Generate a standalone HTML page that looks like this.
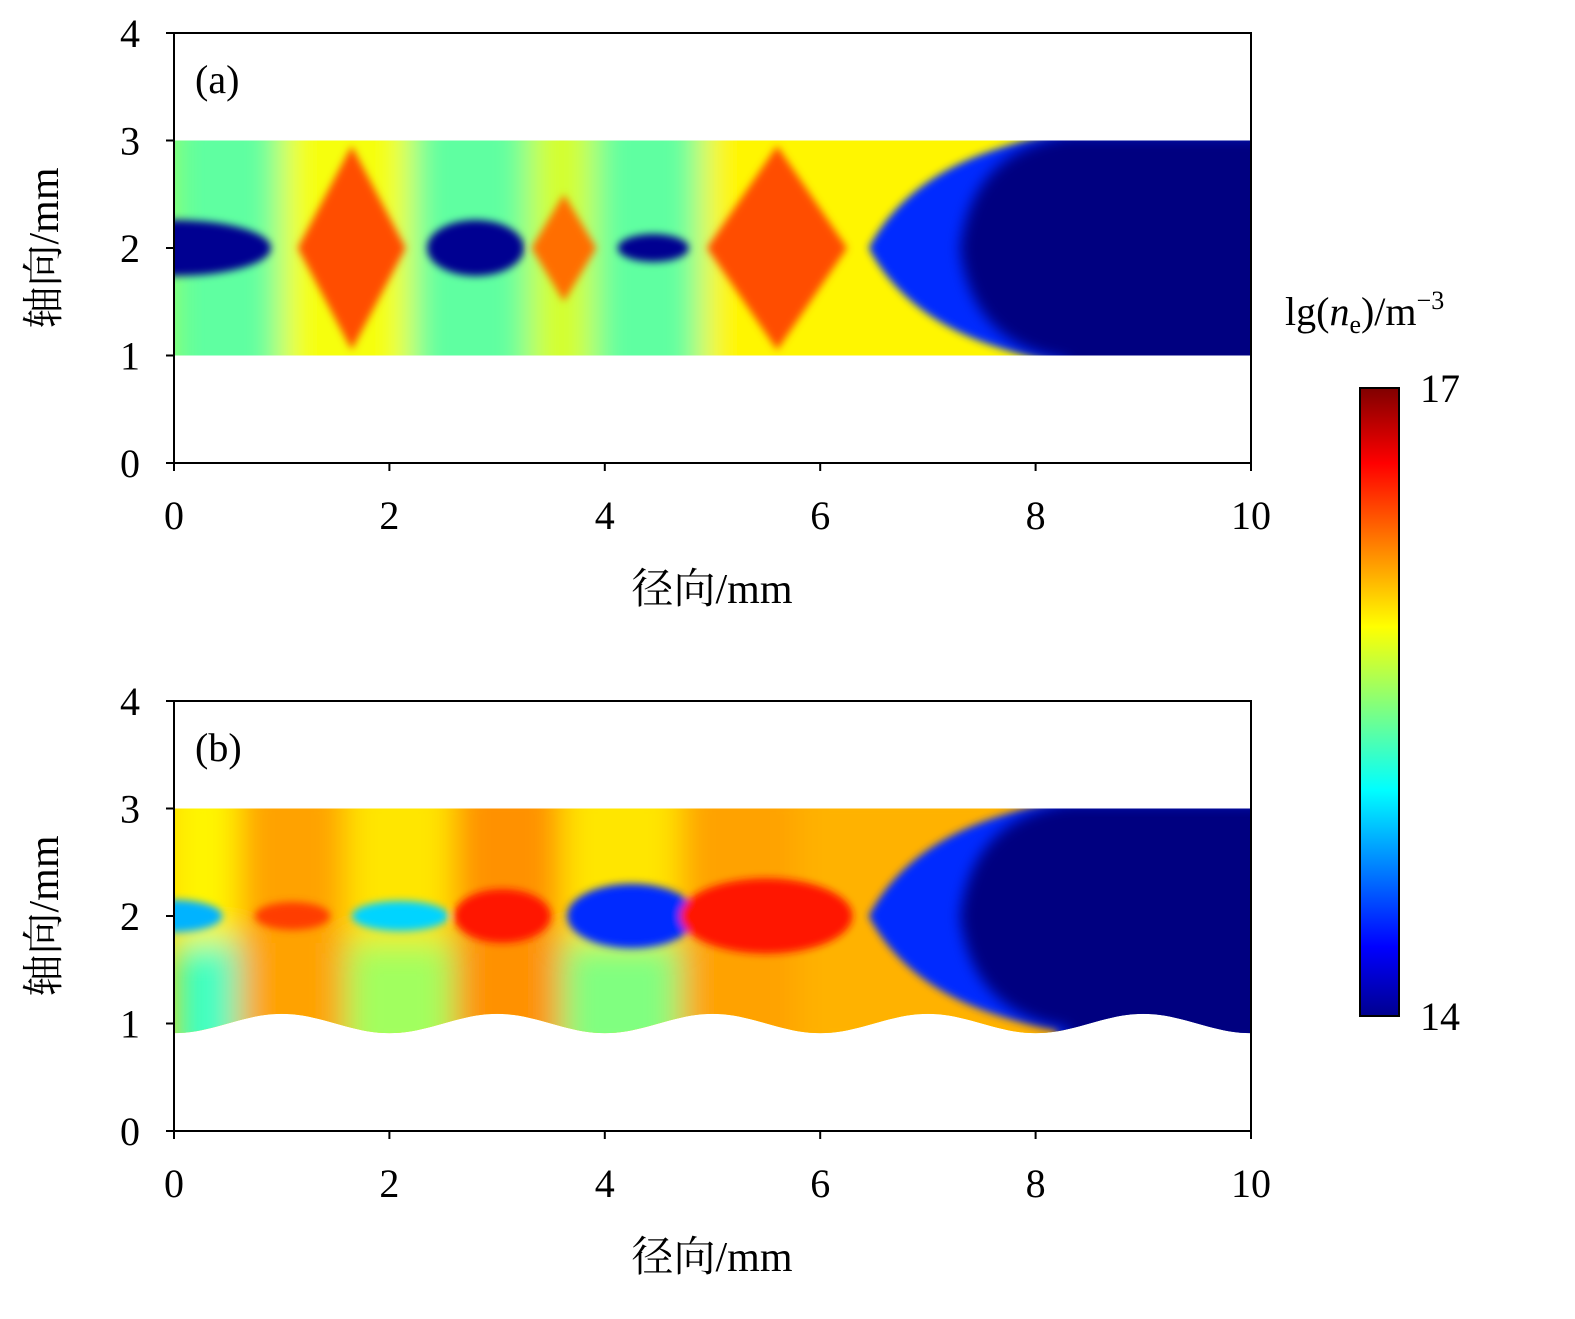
<!DOCTYPE html>
<html><head><meta charset="utf-8">
<style>
html,body{margin:0;padding:0;background:#fff;overflow:hidden;width:1575px;height:1319px;}
svg{display:block;}
text{font-family:"Liberation Serif","Noto Serif CJK SC",serif;fill:#000;}
</style></head>
<body>
<svg id="chart" width="1575" height="1319" viewBox="0 0 1575 1319" xmlns="http://www.w3.org/2000/svg">
<defs>
<filter id="blur" x="-20%" y="-20%" width="140%" height="140%"><feGaussianBlur stdDeviation="7"/></filter>
<filter id="blurB" x="-20%" y="-20%" width="140%" height="140%"><feGaussianBlur stdDeviation="16"/></filter>
<filter id="blur2" x="-20%" y="-20%" width="140%" height="140%"><feGaussianBlur stdDeviation="4"/></filter>
<linearGradient id="jetGrad" x1="0" y1="1" x2="0" y2="0">
<stop offset="0" stop-color="#00008f"/><stop offset="0.11" stop-color="#0000ff"/>
<stop offset="0.36" stop-color="#00ffff"/><stop offset="0.62" stop-color="#ffff00"/>
<stop offset="0.88" stop-color="#ff0000"/><stop offset="1" stop-color="#800000"/>
</linearGradient>
</defs>
</svg>
<script>
const xTicks=[0,2,4,6,8,10];
const yTicks=[0,1,2,3,4];
// panel a: background vertical bands
const aBandX0=[0,1.0,2.2,3.3,3.9,4.9];
const aBandX1=[1.0,2.2,3.35,3.9,4.9,8.4];
const aBandVal=[15.4,15.85,15.4,15.75,15.4,15.9];
// panel a diamonds
const aDiaX=[1.65,3.62,5.6];
const aDiaHW=[0.5,0.3,0.65];
const aDiaY0=[1.05,1.5,1.05];
const aDiaY1=[2.95,2.5,2.95];
const aDiaVal=[16.4,16.3,16.4];
// panel a ellipses
const aEllX=[0.0,2.8,4.45];
const aEllHW=[0.9,0.45,0.33];
const aEllHH=[0.26,0.26,0.13];
const aEllVal=[14.05,14.05,14.05];
// panel b background bands
const bBandX0=[0,0.6,1.6,2.6,3.6,4.7,5.8];
const bBandX1=[0.6,1.6,2.6,3.6,4.7,5.8,8.4];
const bBandVal=[15.9,16.15,15.95,16.2,15.95,16.15,16.1];
// panel b lower patches
const bLowX0=[0,1.6,3.6];
const bLowX1=[0.6,2.6,4.7];
const bLowVal=[15.3,15.6,15.5];
// panel b ellipses
const bEllX=[0.0,1.1,2.1,3.05,4.25,5.5];
const bEllHW=[0.45,0.35,0.45,0.45,0.6,0.8];
const bEllHH=[0.15,0.13,0.14,0.25,0.3,0.35];
const bEllVal=[14.9,16.45,15.0,16.55,14.5,16.55];
const cbMin=14, cbMax=17;

const NS="http://www.w3.org/2000/svg";
const svg=document.getElementById('chart');
function jet(v){
  let t=(v-cbMin)/(cbMax-cbMin); t=Math.max(0,Math.min(1,t));
  const r=Math.max(0,Math.min(1,Math.min(4*t-1.5,-4*t+4.5)));
  const g=Math.max(0,Math.min(1,Math.min(4*t-0.5,-4*t+3.5)));
  const b=Math.max(0,Math.min(1,Math.min(4*t+0.5,-4*t+2.5)));
  return `rgb(${Math.round(r*255)},${Math.round(g*255)},${Math.round(b*255)})`;
}
function mk(tag,attrs,parent){const e=document.createElementNS(NS,tag);for(const k in attrs)e.setAttribute(k,attrs[k]);(parent||svg).appendChild(e);return e;}
const X0=174,X1=1251;
function sx(x){return X0+(X1-X0)*x/10;}
function panel(top,bottom,label,isB,idx){
  const sy=y=>bottom-(bottom-top)*y/4;
  const g=mk('g',{});
  
  
  const cid='clip'+idx;
  const cp=mk('clipPath',{id:cid},g);
  let d=`M${sx(0)},${sy(3)} L${sx(10)},${sy(3)} `;
  if(isB){
    for(let i=200;i>=0;i--){const x=10*i/200;const y=1+0.09*Math.cos(Math.PI*(x-1));d+=`L${sx(x)},${sy(y)} `;}
  }else{d+=`L${sx(10)},${sy(1)} L${sx(0)},${sy(1)} `;}
  d+='Z';
  mk('path',{d:d},cp);
  const hm=mk('g',{'clip-path':`url(#${cid})`},g);
  
  
  mk('rect',{x:sx(0),y:sy(3.1),width:sx(10)-sx(0),height:sy(0.8)-sy(3.1),fill:jet(isB?16.0:15.6)},hm);
  const bl=mk('g',{filter:'url(#blurB)'},hm);
  const bx0=isB?bBandX0:aBandX0,bx1=isB?bBandX1:aBandX1,bv=isB?bBandVal:aBandVal;
  for(let i=0;i<bx0.length;i++){
    const r=mk('rect',{x:sx(bx0[i]),y:sy(3.3),width:sx(bx1[i])-sx(bx0[i]),height:sy(0.6)-sy(3.3),fill:jet(bv[i])},bl);
    
    
  }
  if(isB){
    for(let i=0;i<bLowX0.length;i++){
      const r=mk('rect',{x:sx(bLowX0[i]),y:sy(1.75),width:sx(bLowX1[i])-sx(bLowX0[i]),height:sy(0.6)-sy(1.75),fill:jet(bLowVal[i])},bl);
      
      
    }
  }
  const sh=mk('g',{filter:'url(#blur2)'},hm);
  if(!isB){
    for(let i=0;i<aDiaX.length;i++){
      const c=aDiaX[i],w=aDiaHW[i];
      const p=mk('polygon',{points:`${sx(c)},${sy(aDiaY1[i])} ${sx(c+w)},${sy(2)} ${sx(c)},${sy(aDiaY0[i])} ${sx(c-w)},${sy(2)}`,fill:jet(aDiaVal[i])},sh);
      
      
    }
  }
  const ex=isB?bEllX:aEllX,ew=isB?bEllHW:aEllHW,eh=isB?bEllHH:aEllHH,ev=isB?bEllVal:aEllVal;
  for(let i=0;i<ex.length;i++){
    const e=mk('ellipse',{cx:sx(ex[i]),cy:sy(2),rx:sx(ew[i])-sx(0),ry:sy(2)-sy(2+eh[i]),fill:jet(ev[i])},sh);
    
    
  }
  const fr=mk('path',{d:`M${sx(6.45)},${sy(2)} Q${sx(6.9)},${sy(2.85)} ${sx(8.2)},${sy(3.05)} L${sx(10.2)},${sy(3.05)} L${sx(10.2)},${sy(0.8)} L${sx(8.2)},${sy(0.8)} L${sx(8.2)},${sy(0.95)} Q${sx(6.9)},${sy(1.15)} ${sx(6.45)},${sy(2)} Z`,fill:jet(14.5)},sh);
  
  
  mk('path',{d:`M${sx(7.3)},${sy(2)} Q${sx(7.4)},${sy(2.9)} ${sx(8.3)},${sy(3.05)} L${sx(10.2)},${sy(3.05)} L${sx(10.2)},${sy(0.8)} L${sx(8.3)},${sy(0.8)} L${sx(8.3)},${sy(0.95)} Q${sx(7.4)},${sy(1.1)} ${sx(7.3)},${sy(2)} Z`,fill:jet(14.0),filter:'url(#blur)'},hm);
  const fm=mk('rect',{x:X0,y:top,width:X1-X0,height:bottom-top,fill:'none',stroke:'#000','stroke-width':2},g);
  
  
  xTicks.forEach(t=>{
    mk('line',{x1:sx(t),x2:sx(t),y1:bottom,y2:bottom+8,stroke:'#000','stroke-width':2},g);
    const tx=mk('text',{x:sx(t),y:bottom+66,'text-anchor':'middle','font-size':40},g);tx.textContent=t;
    
    
  });
  yTicks.forEach(t=>{
    mk('line',{x1:X0-8,x2:X0,y1:sy(t),y2:sy(t),stroke:'#000','stroke-width':2},g);
    const tx=mk('text',{x:140,y:sy(t)+14,'text-anchor':'end','font-size':40},g);tx.textContent=t;
    
    
  });
  const lb=mk('text',{x:195,y:top+60,'font-size':40},g);lb.textContent=label;
  
  
  const xl=mk('text',{x:712,y:bottom+140,'text-anchor':'middle','font-size':42},g);xl.textContent='径向/mm';
  
  
  const yl=mk('text',{x:0,y:0,'text-anchor':'middle','font-size':42,transform:`translate(58,${(top+bottom)/2}) rotate(-90)`},g);yl.textContent='轴向/mm';
  
  
}
panel(33,463,'(a)',false,0);
panel(701,1131,'(b)',true,1);
const cb=mk('rect',{x:1360,y:388,width:39,height:628,fill:'url(#jetGrad)',stroke:'#000','stroke-width':2});


const t17=mk('text',{x:1420,y:402,'font-size':40});t17.textContent=cbMax;


const t14=mk('text',{x:1420,y:1030,'font-size':40});t14.textContent=cbMin;


const ct=mk('text',{x:1285,y:325,'font-size':40});
ct.innerHTML='lg(<tspan font-style="italic">n</tspan><tspan font-size="26" dy="8">e</tspan><tspan dy="-8">)/m</tspan><tspan font-size="26" dy="-16">−3</tspan>';


</script>
</body></html>
